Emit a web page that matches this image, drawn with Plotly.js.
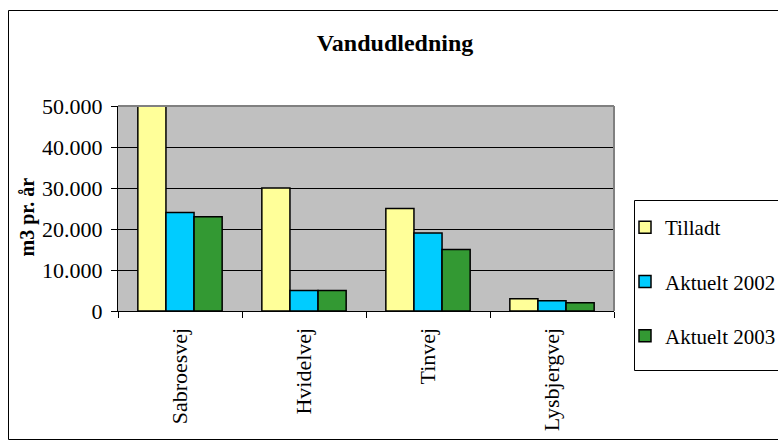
<!DOCTYPE html>
<html>
<head>
<meta charset="utf-8">
<script src="https://cdn.plot.ly/plotly-3.0.1.min.js"></script>
<style>
html,body{margin:0;padding:0;background:#fff;overflow:hidden;width:778px;height:441px;}
#chart{width:820px;height:441px;}
</style>
</head>
<body>
<div id="chart"></div>
<script>
const categories = ["Sabroesvej", "Hvidelvej", "Tinvej", "Lysbjergvej"];
const seriesNames = ["Tilladt", "Aktuelt 2002", "Aktuelt 2003"];
const tilladt = [50000, 30000, 25000, 3000];
const aktuelt2002 = [24000, 5000, 19000, 2500];
const aktuelt2003 = [23000, 5000, 15000, 2000];
const yTicks = [0, 10000, 20000, 30000, 40000, 50000];
const chartTitle = "Vandudledning";
const yTitle = "m3 pr. år";

const colors = ["#ffff99", "#00ccff", "#339933"];
const values = [tilladt, aktuelt2002, aktuelt2003];
const FONT = "Liberation Serif";

const traces = values.map((v, i) => ({
  type: "bar",
  name: seriesNames[i],
  x: categories,
  y: v,
  legendgroup: "g" + i,
  marker: {color: colors[i], line: {color: "#000", width: 1.5}},
  hoverinfo: "x+y+name"
}));

const L = 118, R = 614, T = 106, B = 311;
const W = 820, H = 441;
const pw = R - L, ph = B - T;
const px = x => (x - L) / pw;
const py = y => (B - y) / ph;

const layout = {
  width: W, height: H,
  margin: {l: L, r: W - R, t: T, b: H - B, pad: 0},
  paper_bgcolor: "#ffffff",
  plot_bgcolor: "#c0c0c0",
  separators: ",.",
  font: {family: FONT, size: 21, color: "#000"},
  bargap: 0.32,
  bargroupgap: 0,
  title: {
    text: "<b>" + chartTitle + "</b>",
    font: {family: FONT, size: 24, color: "#000"},
    xref: "container", yref: "container",
    x: 395 / W, xanchor: "center",
    y: 1 - 43 / H, yanchor: "middle"
  },
  xaxis: {
    type: "category",
    showgrid: false,
    showline: true, linecolor: "#000", linewidth: 1,
    ticks: "outside", tickson: "boundaries", ticklen: 6, tickcolor: "#000", tickwidth: 1,
    tickangle: -90,
    ticklabelstandoff: 7,
    tickfont: {family: FONT, size: 22, color: "#000"},
    zeroline: false,
    fixedrange: true
  },
  yaxis: {
    range: [0, 50000],
    tickvals: yTicks,
    tickformat: ",d",
    showgrid: true, gridcolor: "#000", gridwidth: 1,
    showline: true, linecolor: "#000", linewidth: 1,
    ticks: "outside", ticklen: 6, tickcolor: "#000", tickwidth: 1,
    ticklabelstandoff: 4,
    tickfont: {family: FONT, size: 22, color: "#000"},
    zeroline: false,
    fixedrange: true
  },
  showlegend: true,
  legend: {
    x: px(625), xanchor: "left",
    y: py(207), yanchor: "top",
    bgcolor: "rgba(0,0,0,0)",
    borderwidth: 0,
    font: {family: FONT, size: 21, color: "#000"},
    traceorder: "grouped",
    tracegroupgap: 24,
    itemwidth: 30
  },
  annotations: [
    {xref: "paper", yref: "paper", x: px(27), y: py(217.5), xanchor: "center", yanchor: "middle",
     text: "<b>" + yTitle + "</b>", textangle: -90, showarrow: false,
     font: {family: FONT, size: 20, color: "#000"}}
  ],
  shapes: [
    {type: "rect", xref: "paper", yref: "paper", x0: px(8.5), x1: px(815), y0: py(439.5), y1: py(10.5),
     line: {color: "#000", width: 1}, fillcolor: "rgba(0,0,0,0)", layer: "below"},
    {type: "rect", xref: "paper", yref: "paper", x0: px(634.5), x1: px(815), y0: py(370.5), y1: py(200.5),
     line: {color: "#000", width: 1}, fillcolor: "#fff", layer: "below"},
    {type: "line", xref: "paper", yref: "paper", x0: 0, x1: 1, y0: 1, y1: 1, line: {color: "#808080", width: 2}},
    {type: "line", xref: "paper", yref: "paper", x0: 1, x1: 1, y0: 0, y1: 1, line: {color: "#808080", width: 2}}
  ]
};

Plotly.newPlot("chart", traces, layout, {displayModeBar: false, staticPlot: true});
</script>
</body>
</html>
